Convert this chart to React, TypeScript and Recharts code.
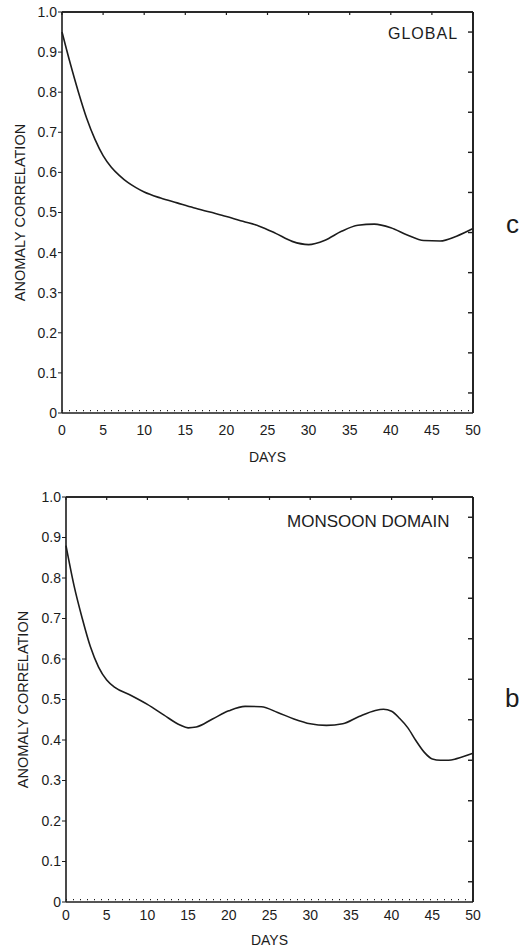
import { LineChart, Line, XAxis, YAxis, ReferenceLine } from "recharts"

// panel a: global
const globalDays = [0, 1, 2, 3, 4, 5, 6, 7, 8, 9, 10, 12, 14, 16, 18, 20, 22, 24, 26, 28, 30, 32, 34, 36, 38, 40, 42, 44, 46, 48, 50]
const globalCorr = [0.95, 0.872, 0.8, 0.735, 0.683, 0.642, 0.613, 0.592, 0.575, 0.562, 0.551, 0.536, 0.524, 0.512, 0.501, 0.49, 0.478, 0.466, 0.448, 0.428, 0.42, 0.431, 0.453, 0.468, 0.471, 0.462, 0.444, 0.43, 0.429, 0.441, 0.46]

// panel b: monsoon domain
const monsoonDays = [0, 1, 2, 3, 4, 5, 6, 8, 10, 12, 14, 15, 16, 18, 20, 22, 24, 26, 28, 30, 32, 34, 36, 38, 39, 40, 41, 42, 43, 44, 45, 46, 47, 48, 50]
const monsoonCorr = [0.88, 0.78, 0.7, 0.63, 0.58, 0.548, 0.53, 0.51, 0.488, 0.462, 0.437, 0.43, 0.432, 0.452, 0.472, 0.483, 0.482, 0.468, 0.452, 0.44, 0.436, 0.44, 0.458, 0.473, 0.476, 0.471, 0.453, 0.43, 0.398, 0.37, 0.353, 0.35, 0.35, 0.354, 0.367]

const dayTicks = [0, 5, 10, 15, 20, 25, 30, 35, 40, 45, 50]
const corrTicks = [0, 0.1, 0.2, 0.3, 0.4, 0.5, 0.6, 0.7, 0.8, 0.9, 1.0]
const minorCorrTicks = [0.05, 0.1, 0.15, 0.2, 0.25, 0.3, 0.35, 0.4, 0.45, 0.5, 0.55, 0.6, 0.65, 0.7, 0.75, 0.8, 0.85, 0.9, 0.95]

const FONT = '"Liberation Sans", Arial, sans-serif'
const INK = "#1c1c1c"

const fmtCorr = (v: number) => (v === 0 ? "0" : v.toFixed(1))

// inward tick marks for the frame
const RightTick = (p: any) => <line x1={p.x - 5} x2={p.x} y1={p.y} y2={p.y} stroke={INK} strokeWidth={1.4} />
const TopTick = (p: any) => <line x1={p.x} x2={p.x} y1={p.y} y2={p.y + 3} stroke={INK} strokeWidth={1.2} />

type PanelProps = {
  days: number[]
  corr: number[]
  top: number
  height: number
  axisLeft: number
  xAxisHeight: number
  bottomMargin: number
  tickGap: number
  daysOffset: number
  ylabelOffset: number
}

const Panel = ({ days, corr, top, height, axisLeft, xAxisHeight, bottomMargin, tickGap, daysOffset, ylabelOffset }: PanelProps) => {
  const data = days.map((d, i) => ({ day: d, corr: corr[i] }))
  return (
    <div style={{ position: "absolute", left: 0, top }}>
      <LineChart width={521} height={height} data={data} margin={{ top: 0, right: 0, bottom: bottomMargin, left: 0 }}>
        <XAxis
          xAxisId="b"
          dataKey="day"
          type="number"
          domain={[0, 50]}
          ticks={dayTicks}
          height={xAxisHeight}
          tickSize={0}
          tickMargin={tickGap}
          axisLine={{ stroke: INK, strokeWidth: 1.6 }}
          tick={{ fill: INK, fontSize: 14, fontFamily: FONT }}
          label={{ value: "DAYS", position: "insideBottom", offset: daysOffset, fill: INK, fontSize: 14, fontFamily: FONT }}
        />
        <XAxis
          xAxisId="t"
          orientation="top"
          dataKey="day"
          type="number"
          domain={[0, 50]}
          ticks={dayTicks}
          height={12}
          tickSize={0}
          tickMargin={0}
          tickLine={false}
          tick={TopTick}
          axisLine={{ stroke: INK, strokeWidth: 1.6 }}
        />
        <YAxis
          yAxisId="l"
          type="number"
          domain={[0, 1]}
          ticks={corrTicks}
          width={axisLeft}
          tickSize={4}
          tickMargin={1}
          tickFormatter={fmtCorr}
          axisLine={{ stroke: INK, strokeWidth: 1.6 }}
          tickLine={{ stroke: INK }}
          tick={{ fill: INK, fontSize: 14, fontFamily: FONT }}
          label={{
            value: "ANOMALY CORRELATION",
            angle: -90,
            position: "insideLeft",
            offset: ylabelOffset,
            fill: INK,
            fontSize: 14.5,
            fontFamily: FONT,
            style: { textAnchor: "middle" },
          }}
        />
        <YAxis
          yAxisId="r"
          orientation="right"
          type="number"
          domain={[0, 1]}
          ticks={minorCorrTicks}
          width={48}
          tickSize={0}
          tickMargin={0}
          tickLine={false}
          tick={RightTick}
          axisLine={{ stroke: INK, strokeWidth: 1.6 }}
        />
        <ReferenceLine xAxisId="b" yAxisId="l" y={1} stroke={INK} strokeWidth={1.6} />
        <ReferenceLine xAxisId="b" yAxisId="l" x={50} stroke={INK} strokeWidth={1.6} />
        <ReferenceLine xAxisId="b" yAxisId="l" y={0.006} stroke={INK} strokeWidth={1.2} strokeDasharray="1 6" />
        {/* invisible copy so the frame axes get registered */}
        <Line
          xAxisId="t"
          yAxisId="r"
          type="monotone"
          dataKey="corr"
          stroke="none"
          dot={false}
          activeDot={false}
          isAnimationActive={false}
        />
        <Line
          xAxisId="b"
          yAxisId="l"
          type="monotone"
          dataKey="corr"
          stroke={INK}
          strokeWidth={1.6}
          dot={false}
          isAnimationActive={false}
        />
      </LineChart>
    </div>
  )
}

const tag = (text: string, left: number, top: number, size: number, extra: any = {}) => (
  <div
    style={{
      position: "absolute",
      left,
      top,
      fontFamily: FONT,
      fontSize: size,
      lineHeight: 1,
      color: INK,
      whiteSpace: "nowrap",
      ...extra,
    }}
  >
    {text}
  </div>
)

export default function App() {
  return (
    <div style={{ position: "absolute", left: 0, top: 0, width: 521, height: 949, overflow: "hidden", background: "#fff" }}>
      <Panel
        days={globalDays}
        corr={globalCorr}
        top={0}
        height={470}
        axisLeft={62}
        xAxisHeight={50}
        bottomMargin={7}
        tickGap={12}
        daysOffset={1}
        ylabelOffset={20}
      />
      <Panel
        days={monsoonDays}
        corr={monsoonCorr}
        top={485}
        height={464}
        axisLeft={66}
        xAxisHeight={45}
        bottomMargin={2}
        tickGap={8}
        daysOffset={2}
        ylabelOffset={23}
      />
      {tag("GLOBAL", 388, 26, 16, { letterSpacing: 1 })}
      {tag("MONSOON DOMAIN", 287, 513, 17)}
      {tag("c", 506, 211, 26)}
      {tag("b", 505, 685, 26)}
    </div>
  )
}
